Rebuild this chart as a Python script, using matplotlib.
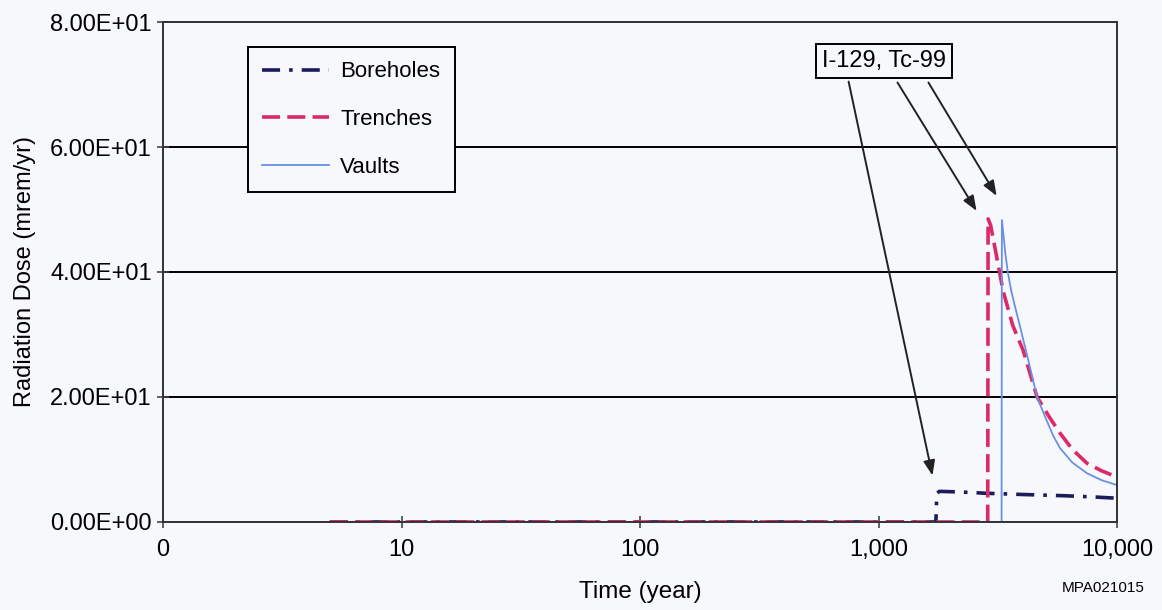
import matplotlib.pyplot as plt
from matplotlib import font_manager

# font: condensed look if available
names = set(f.name for f in font_manager.fontManager.ttflist)
if 'Liberation Sans Narrow' in names:
    plt.rcParams['font.family'] = ['Liberation Sans Narrow', 'DejaVu Sans']
else:
    plt.rcParams['font.family'] = ['Liberation Sans', 'DejaVu Sans']

# data
bore_t = [5, 1740, 1755, 1800, 2200, 2800, 4000, 6000, 8000, 10000]
bore_v = [0, 0, 4.6, 4.9, 4.8, 4.6, 4.4, 4.2, 4.0, 3.8]

trench_t = [5, 2870, 2880, 2950, 3130, 3327, 3650, 4036, 4620, 5200, 5770, 6500, 7480, 8600, 10000]
trench_v = [0, 0, 48.5, 47.5, 42.4, 37.0, 31.5, 27.5, 20.0, 16.8, 14.2, 11.6, 9.4, 8.2, 7.2]

vault_t = [5, 3280, 3290, 3330, 3400, 3490, 3600, 3750, 3920, 4250, 4620, 5000, 5400, 5770,
           6500, 7480, 8600, 10000]
vault_v = [0, 0, 48.3, 46.5, 43.0, 39.8, 37.0, 34.2, 31.3, 25.8, 20.0, 16.8, 13.8, 11.8,
           9.5, 7.8, 6.7, 5.9]

x_ticks = [1, 10, 100, 1000, 10000]
x_labels = ['0', '10', '100', '1,000', '10,000']
y_ticks = [0, 20, 40, 60, 80]

fig = plt.figure(figsize=(11.62, 6.10), dpi=100)
fig.patch.set_facecolor('#f7f8fb')
ax = fig.add_axes([0.1403, 0.1443, 0.821, 0.8196])
ax.set_facecolor('#f7f8fb')

ax.plot(bore_t, bore_v, color='#1c1c5c', lw=2.6, dashes=(5, 2.5, 1, 2.5), label='Boreholes')
ax.plot(trench_t, trench_v, color='#dc2a68', lw=2.6, dashes=(5, 2), label='Trenches')
ax.plot(vault_t, vault_v, color='#6a90e6', lw=1.3, label='Vaults')

ax.set_xscale('log')
ax.set_xlim(1, 10000)
ax.set_ylim(0, 80)
ax.set_xticks(x_ticks)
ax.set_xticklabels(x_labels)
ax.minorticks_off()
ax.set_yticks(y_ticks)
ax.set_yticklabels(['{:.2E}'.format(v) for v in y_ticks])
ax.yaxis.grid(True, color='black', lw=1.4)
ax.set_axisbelow(True)
ax.tick_params(axis='both', labelsize=17, direction='inout', length=9, width=1.2, color='#444444')
ax.tick_params(axis='x', pad=8)
for s in ax.spines.values():
    s.set_color('#333333')
    s.set_linewidth(1.4)

ax.set_xlabel('Time (year)', fontsize=17.5, labelpad=14)
ax.set_ylabel('Radiation Dose (mrem/yr)', fontsize=17, labelpad=10)

leg = ax.legend(loc='upper left', bbox_to_anchor=(0.089, 0.95), borderaxespad=0,
                fontsize=16, frameon=True, fancybox=False, edgecolor='black',
                facecolor='#f7f8fb', framealpha=1, handlelength=3.0,
                labelspacing=1.2, borderpad=0.65, handletextpad=0.5)
leg.get_frame().set_linewidth(1.4)

ax.text(1055, 73.8, 'I-129, Tc-99', fontsize=17, ha='center', va='center',
        bbox=dict(boxstyle='square,pad=0.25', fc='#f7f8fb', ec='black', lw=1.4))
arrows = [((1692, 7.0), (745, 70.9)), ((2613, 49.4), (1184, 70.7)), ((3170, 51.8), (1597, 70.7))]
for tip, start in arrows:
    ax.annotate('', xy=tip, xytext=start,
                arrowprops=dict(arrowstyle='-|>,head_length=0.9,head_width=0.35',
                                color='#222222', lw=1.4))

fig.text(0.985, 0.03, 'MPA021015', fontsize=11, ha='right')

fig.savefig('out.png', dpi=100, facecolor=fig.get_facecolor())
